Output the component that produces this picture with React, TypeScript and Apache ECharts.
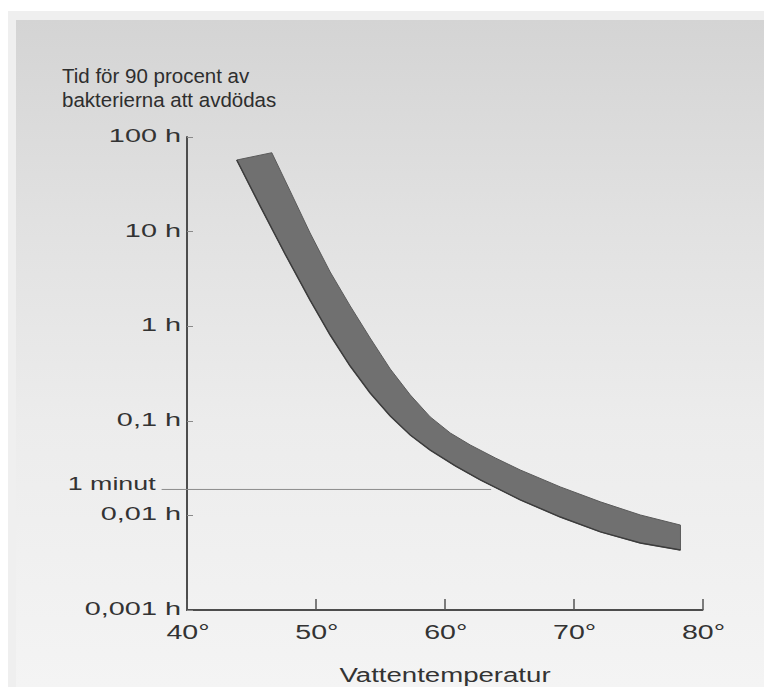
import React, { useEffect, useRef } from "react";
import * as echarts from "echarts";

// ---- data ----
const X_MIN = 40;
const X_MAX = 80;
const X_STEP = 10;
const X_TICKS = [40, 50, 60, 70, 80];
const X_TICK_LABELS = ["40°", "50°", "60°", "70°", "80°"];

const Y_MIN = 0.001;
const Y_MAX = 100;
const Y_TICKS = [0.001, 0.01, 0.1, 1, 10, 100];
const Y_TICK_LABELS = ["0,001 h", "0,01 h", "0,1 h", "1 h", "10 h", "100 h"];

// upper (right) edge of the band: temperature (°C) -> hours
const UPPER_T = [46.58, 48.0, 49.55, 51.11, 52.66, 54.21, 55.77, 57.32, 58.87, 60.43, 61.98, 63.92, 65.86, 68.97, 72.08, 75.18, 78.29];
const UPPER_H = [68.2, 26.9, 9.67, 3.74, 1.64, 0.75, 0.353, 0.188, 0.11, 0.0743, 0.0555, 0.0405, 0.0302, 0.02, 0.0139, 0.0101, 0.0079];

// lower (left) edge of the band
const LOWER_T = [43.86, 45.67, 47.61, 49.55, 51.11, 52.66, 54.21, 55.77, 57.32, 58.87, 60.82, 62.76, 65.86, 68.97, 72.08, 75.18, 78.29];
const LOWER_H = [57.1, 18.7, 5.8, 1.89, 0.807, 0.379, 0.197, 0.1125, 0.0708, 0.0491, 0.0333, 0.0237, 0.0146, 0.0096, 0.0067, 0.0051, 0.0043];

const MINUTE_VALUE = 0.0188;
const MINUTE_FROM = 38.03;
const MINUTE_TO = 63.6;
const MINUTE_LABEL = "1 minut";

const TITLE_LINES = ["Tid för 90 procent av", "bakterierna att avdödas"];
const X_NAME = "Vattentemperatur";

const FONT = '"Liberation Sans", Arial, Helvetica, sans-serif';
const TEXT_COLOR = "#333333";

export default function App() {
  const ref = useRef<HTMLDivElement>(null);

  useEffect(() => {
    if (!ref.current) return;
    const chart = echarts.init(ref.current, undefined, { renderer: "svg" });

    const option: any = {
      animation: false,
      backgroundColor: "#ffffff",
      grid: { left: 187, right: 61.5, top: 137, bottom: 77, containLabel: false },
      xAxis: {
        type: "value",
        min: X_MIN,
        max: X_MAX,
        interval: X_STEP,
        axisLine: { show: true, onZero: false, lineStyle: { color: "#4d4d4d", width: 2 } },
        axisTick: { show: true, inside: true, length: 11, lineStyle: { color: "#555555", width: 1.5 } },
        axisLabel: { show: false },
        splitLine: { show: false },
      },
      yAxis: {
        type: "log",
        logBase: 10,
        min: Y_MIN,
        max: Y_MAX,
        axisLine: { show: true, onZero: false, lineStyle: { color: "#4d4d4d", width: 2 } },
        axisTick: { show: true, inside: true, length: 6, lineStyle: { color: "#8a8a8a", width: 1 } },
        axisLabel: { show: false },
        splitLine: { show: false },
      },
      graphic: [
        { type: "rect", z: -20, silent: true, shape: { x: 8, y: 11, width: 756, height: 676 }, style: { fill: "#efefef" } },
        {
          type: "rect",
          z: -19,
          silent: true,
          shape: { x: 16, y: 20, width: 748, height: 667 },
          style: {
            fill: new echarts.graphic.LinearGradient(0, 0, 0, 1, [
              { offset: 0, color: "#d4d4d4" },
              { offset: 0.3, color: "#e1e1e1" },
              { offset: 0.6, color: "#ececec" },
              { offset: 1, color: "#f4f4f4" },
            ]),
          },
        },
        {
          type: "text",
          x: 62,
          y: 75,
          silent: true,
          style: { text: TITLE_LINES[0], fontSize: 20.5, fontFamily: FONT, fill: "#2e2e2e", align: "left", verticalAlign: "middle", textAlign: "left", textVerticalAlign: "middle" },
        },
        {
          type: "text",
          x: 62,
          y: 99,
          silent: true,
          style: { text: TITLE_LINES[1], fontSize: 20.5, fontFamily: FONT, fill: "#2e2e2e", align: "left", verticalAlign: "middle", textAlign: "left", textVerticalAlign: "middle" },
        },
        {
          type: "text",
          x: 445,
          y: 675,
          scaleX: 1.38,
          silent: true,
          style: { text: X_NAME, fontSize: 20, fontFamily: FONT, fill: TEXT_COLOR, align: "center", verticalAlign: "middle", textAlign: "center", textVerticalAlign: "middle" },
        },
      ],
      series: [
        {
          type: "custom",
          name: "minute",
          silent: true,
          clip: false,
          data: [[MINUTE_FROM, MINUTE_VALUE]],
          renderItem: (params: any, api: any) => {
            const a = api.coord([MINUTE_FROM, MINUTE_VALUE]);
            const b = api.coord([MINUTE_TO, MINUTE_VALUE]);
            return {
              type: "group",
              children: [
                { type: "line", shape: { x1: a[0], y1: a[1], x2: b[0], y2: b[1] }, style: { stroke: "#8c8c8c", lineWidth: 1 } },
                {
                  type: "text",
                  x: a[0] - 6,
                  y: a[1] - 6,
                  scaleX: 1.45,
                  style: { text: MINUTE_LABEL, fontSize: 18.5, fontFamily: FONT, fill: TEXT_COLOR, align: "right", verticalAlign: "middle", textAlign: "right", textVerticalAlign: "middle" },
                },
              ],
            };
          },
        },
        {
          type: "custom",
          name: "band",
          silent: true,
          data: [[UPPER_T[0], UPPER_H[0]]],
          renderItem: (params: any, api: any) => {
            const pts: number[][] = [];
            for (let i = 0; i < UPPER_T.length; i++) pts.push(api.coord([UPPER_T[i], UPPER_H[i]]));
            for (let i = LOWER_T.length - 1; i >= 0; i--) pts.push(api.coord([LOWER_T[i], LOWER_H[i]]));
            const lower = LOWER_T.map((t, i) => api.coord([t, LOWER_H[i]]));
            return {
              type: "group",
              children: [
                { type: "polygon", shape: { points: pts }, style: { fill: "#707070", stroke: "#5a5a5a", lineWidth: 1 } },
                { type: "polyline", shape: { points: lower }, style: { stroke: "#3c3c3c", lineWidth: 1.5, fill: "none" } },
              ],
            };
          },
        },
        {
          type: "custom",
          name: "yLabels",
          silent: true,
          clip: false,
          data: Y_TICKS.map((v) => [X_MIN, v]),
          renderItem: (params: any, api: any) => {
            const p = api.coord([api.value(0), api.value(1)]);
            return {
              type: "text",
              x: p[0] - 6,
              y: p[1] - 1.5,
              scaleX: 1.56,
              style: { text: Y_TICK_LABELS[params.dataIndex], fontSize: 18.5, fontFamily: FONT, fill: TEXT_COLOR, align: "right", verticalAlign: "middle", textAlign: "right", textVerticalAlign: "middle" },
            };
          },
        },
        {
          type: "custom",
          name: "xLabels",
          silent: true,
          clip: false,
          data: X_TICKS.map((t) => [t, Y_MIN]),
          renderItem: (params: any, api: any) => {
            const p = api.coord([api.value(0), api.value(1)]);
            return {
              type: "text",
              x: p[0] + 1,
              y: p[1] + 21,
              scaleX: 1.36,
              style: { text: X_TICK_LABELS[params.dataIndex], fontSize: 21, fontFamily: FONT, fill: TEXT_COLOR, align: "center", verticalAlign: "middle", textAlign: "center", textVerticalAlign: "middle" },
            };
          },
        },
      ],
    };

    chart.setOption(option);
    return () => chart.dispose();
  }, []);

  return <div ref={ref} style={{ position: "absolute", left: 0, top: 0, width: 764, height: 687 }} />;
}
